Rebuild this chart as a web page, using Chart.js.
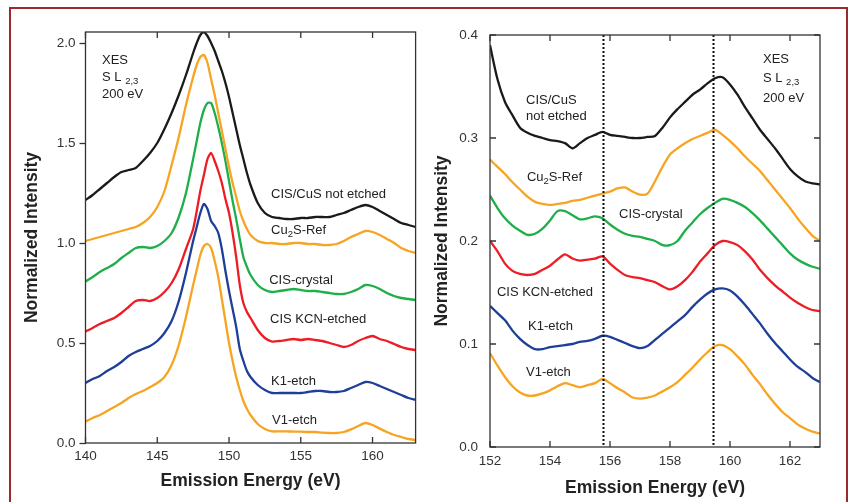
<!DOCTYPE html>
<html lang="en">
<head>
<meta charset="UTF-8">
<title>XES S L2,3 spectra</title>
<script src="https://cdn.jsdelivr.net/npm/chart.js"></script>
<style>
    body {
        margin: 0;
        width: 854px;
        height: 502px;
        overflow: hidden;
        position: relative;
        background: #fff;
        font-family: 'Liberation Sans', Arial, sans-serif;
    }
    .frame {
        position: absolute;
        left: 9px;
        top: 7px;
        width: 835px;
        height: 520px;
        border: 2.5px solid #9c2a2d;
    }
    .panel { position: absolute; top: 0; height: 502px; width: 427px; }
    #left { left: 0; }
    #right { left: 427px; }
</style>
</head>
<body>
<div class="frame"></div>
<div class="panel" id="left"><canvas id="chartL"></canvas></div>
<div class="panel" id="right"><canvas id="chartR"></canvas></div>

<script>
// ---- left panel: full S L2,3 emission, offset spectra ----
const energyL = [140,140.5,141,141.5,142,142.5,143,143.5,144,144.5,145,145.5,146,146.5,147,
    147.5,147.75,148,148.25,148.5,148.75,149,149.25,149.5,149.75,150,150.25,150.5,150.75,151,151.25,151.5,
    152,152.5,153,153.5,154,154.5,155,155.5,156,156.5,157,157.5,158,158.5,159,159.5,160,160.5,161,161.5,162,162.5,163];
const cisCuSL = [1.215,1.24,1.27,1.30,1.33,1.355,1.365,1.375,1.41,1.45,1.50,1.57,1.65,1.74,1.84,
    1.95,2.00,2.04,2.055,2.035,2.00,1.96,1.91,1.86,1.80,1.73,1.65,1.57,1.49,1.42,1.35,1.29,
    1.20,1.15,1.13,1.125,1.12,1.12,1.125,1.125,1.13,1.13,1.13,1.14,1.15,1.165,1.18,1.19,1.18,1.16,1.14,1.12,1.10,1.09,1.08];
const cu2sL = [1.01,1.02,1.03,1.04,1.05,1.06,1.07,1.08,1.10,1.13,1.18,1.26,1.39,1.53,1.69,
    1.83,1.89,1.93,1.94,1.90,1.82,1.74,1.65,1.56,1.47,1.38,1.30,1.23,1.16,1.11,1.07,1.04,
    1.01,1.0,1.0,0.995,0.995,1.0,1.0,0.995,0.995,0.99,0.99,0.995,1.01,1.03,1.045,1.06,1.055,1.04,1.02,1.0,0.975,0.96,0.95];
const crystalL = [0.807,0.83,0.855,0.875,0.895,0.925,0.95,0.975,0.98,0.975,0.985,1.01,1.05,1.13,1.25,
    1.42,1.51,1.60,1.665,1.70,1.70,1.65,1.58,1.50,1.41,1.31,1.21,1.12,1.02,0.93,0.88,0.84,
    0.79,0.765,0.755,0.76,0.765,0.77,0.765,0.76,0.76,0.755,0.75,0.745,0.745,0.755,0.77,0.79,0.785,0.77,0.75,0.735,0.725,0.72,0.715];
const kcnL = [0.557,0.575,0.595,0.61,0.625,0.65,0.68,0.71,0.715,0.71,0.725,0.755,0.80,0.87,0.97,
    1.07,1.16,1.26,1.34,1.42,1.45,1.41,1.36,1.30,1.22,1.15,1.05,0.93,0.79,0.70,0.655,0.625,
    0.565,0.525,0.507,0.51,0.515,0.52,0.515,0.52,0.515,0.51,0.50,0.49,0.48,0.49,0.51,0.525,0.535,0.52,0.51,0.495,0.48,0.47,0.465];
const k1L = [0.30,0.32,0.335,0.36,0.38,0.405,0.435,0.455,0.47,0.485,0.51,0.55,0.61,0.71,0.85,
    1.01,1.08,1.15,1.195,1.17,1.11,1.085,1.05,0.97,0.86,0.76,0.67,0.58,0.47,0.41,0.36,0.33,
    0.29,0.265,0.25,0.25,0.25,0.25,0.25,0.255,0.26,0.26,0.255,0.255,0.26,0.275,0.29,0.305,0.30,0.285,0.27,0.255,0.24,0.225,0.215];
const v1L = [0.107,0.125,0.14,0.16,0.18,0.20,0.225,0.245,0.26,0.28,0.30,0.33,0.39,0.49,0.63,
    0.79,0.865,0.94,0.985,0.995,0.975,0.91,0.83,0.72,0.61,0.50,0.41,0.33,0.265,0.21,0.17,0.14,
    0.095,0.07,0.058,0.058,0.058,0.057,0.057,0.055,0.055,0.052,0.05,0.05,0.055,0.068,0.085,0.10,0.09,0.072,0.055,0.04,0.03,0.02,0.015];

// ---- right panel: zoom on the 152-163 eV region ----
const energyR = [152,152.25,152.5,152.75,153,153.25,153.5,153.75,154,154.25,154.5,154.75,155,155.25,155.5,155.75,
    156,156.25,156.5,156.75,157,157.25,157.5,157.75,158,158.25,158.5,158.75,159,159.25,159.5,159.75,
    160,160.25,160.5,160.75,161,161.25,161.5,161.75,162,162.25,162.5,162.75,163];
const cisCuSR = [0.39,0.357,0.335,0.322,0.31,0.305,0.302,0.30,0.298,0.297,0.295,0.29,0.295,0.30,0.303,0.306,
    0.303,0.302,0.301,0.30,0.30,0.301,0.302,0.31,0.32,0.328,0.335,0.342,0.347,0.353,0.358,0.359,
    0.352,0.342,0.33,0.319,0.308,0.299,0.29,0.28,0.27,0.263,0.258,0.256,0.255];
const cu2sR = [0.279,0.272,0.265,0.257,0.25,0.243,0.238,0.236,0.235,0.236,0.237,0.239,0.24,0.242,0.244,0.246,
    0.248,0.251,0.252,0.248,0.245,0.246,0.258,0.272,0.284,0.29,0.295,0.299,0.302,0.305,0.308,0.303,
    0.297,0.29,0.282,0.275,0.268,0.259,0.25,0.241,0.232,0.222,0.213,0.205,0.20];
const crystalR = [0.244,0.232,0.222,0.215,0.21,0.206,0.207,0.212,0.22,0.229,0.229,0.225,0.221,0.222,0.224,0.222,
    0.216,0.211,0.207,0.205,0.204,0.202,0.20,0.196,0.196,0.20,0.21,0.218,0.226,0.232,0.237,0.241,
    0.24,0.237,0.233,0.227,0.22,0.212,0.204,0.196,0.188,0.182,0.178,0.175,0.173];
const kcnR = [0.20,0.19,0.178,0.171,0.168,0.167,0.168,0.172,0.176,0.182,0.187,0.183,0.181,0.182,0.183,0.185,
    0.178,0.172,0.167,0.165,0.164,0.162,0.16,0.156,0.153,0.156,0.162,0.17,0.18,0.188,0.196,0.20,
    0.199,0.196,0.19,0.182,0.172,0.164,0.157,0.151,0.145,0.14,0.136,0.133,0.132];
const k1R = [0.137,0.13,0.123,0.113,0.105,0.099,0.095,0.095,0.097,0.098,0.099,0.10,0.102,0.103,0.105,0.108,
    0.107,0.104,0.101,0.098,0.096,0.098,0.104,0.11,0.116,0.122,0.128,0.136,0.143,0.149,0.153,0.154,
    0.152,0.146,0.138,0.129,0.12,0.11,0.101,0.093,0.085,0.078,0.073,0.067,0.063];
const v1R = [0.091,0.079,0.068,0.059,0.053,0.05,0.05,0.052,0.055,0.059,0.062,0.06,0.058,0.06,0.062,0.066,
    0.062,0.057,0.053,0.048,0.047,0.048,0.05,0.054,0.058,0.063,0.07,0.077,0.085,0.092,0.098,0.099,
    0.095,0.088,0.08,0.07,0.061,0.051,0.042,0.034,0.028,0.022,0.018,0.015,0.013];

const markerLines = [155.75, 159.42];   // dotted guides (eV)

const COLORS = { black: '#1a1a1a', orange: '#f6a422', green: '#1eae4a', red: '#ec1d25', blue: '#1e3f98' };
const FONT = "'Liberation Sans', Arial, sans-serif";

function series(xs, ys) {
    return xs.map((x, i) => ({ x: x, y: ys[i] }));
}

function ds(xs, ys, color) {
    return { data: series(xs, ys), borderColor: color, borderWidth: 2.3, pointRadius: 0, tension: 0.25, fill: false };
}

// draws text with subscripts: parts = [[text, isSub], ...]
function drawRich(ctx, parts, x, y) {
    let cx = x;
    for (const [t, sub] of parts) {
        ctx.font = (sub ? '9.5px ' : '13px ') + FONT;
        ctx.fillText(t, cx, sub ? y + 4 : y);
        cx += ctx.measureText(t).width;
    }
}

// frame box, inward ticks, dotted guides and in-plot labels
const decorations = {
    id: 'decorations',
    afterDatasetsDraw(chart, args, opts) {
        const ctx = chart.ctx;
        const a = chart.chartArea;
        const xs = chart.scales.x, ys = chart.scales.y;
        ctx.save();

        if (opts.guides) {
            ctx.strokeStyle = '#111';
            ctx.lineWidth = 2;
            ctx.setLineDash([2, 2]);
            opts.guides.forEach(v => {
                const px = Math.round(xs.getPixelForValue(v)) + 0.5;
                ctx.beginPath();
                ctx.moveTo(px, a.top);
                ctx.lineTo(px, a.bottom);
                ctx.stroke();
            });
            ctx.setLineDash([]);
        }

        ctx.strokeStyle = '#333';
        ctx.lineWidth = 1.3;
        ctx.strokeRect(a.left, a.top, a.right - a.left, a.bottom - a.top);

        const len = 6;
        ctx.beginPath();
        xs.ticks.forEach(t => {
            const px = xs.getPixelForValue(t.value);
            ctx.moveTo(px, a.top); ctx.lineTo(px, a.top + len);
            ctx.moveTo(px, a.bottom); ctx.lineTo(px, a.bottom - len);
        });
        if (opts.yInside) {
            ys.ticks.forEach(t => {
                const py = ys.getPixelForValue(t.value);
                ctx.moveTo(a.left, py); ctx.lineTo(a.left + len, py);
                ctx.moveTo(a.right, py); ctx.lineTo(a.right - len, py);
            });
        }
        ctx.stroke();

        ctx.fillStyle = '#222';
        ctx.textAlign = 'left';
        ctx.textBaseline = 'middle';
        opts.labels.forEach(l => {
            drawRich(ctx, l.parts, xs.getPixelForValue(l.x), ys.getPixelForValue(l.y));
        });
        ctx.restore();
    }
};

function makeChart(id, cfg) {
    return new Chart(document.getElementById(id), {
        type: 'line',
        data: { datasets: cfg.datasets },
        options: {
            responsive: true,
            maintainAspectRatio: false,
            animation: false,
            layout: { padding: cfg.padding },
            plugins: {
                legend: { display: false },
                tooltip: { enabled: false },
                decorations: { labels: cfg.labels, guides: cfg.guides, yInside: cfg.yInside }
            },
            scales: {
                x: {
                    type: 'linear',
                    min: cfg.xMin, max: cfg.xMax,
                    border: { display: false },
                    grid: { display: false },
                    ticks: { stepSize: cfg.xStep, includeBounds: false, color: '#333', padding: cfg.xPad,
                             font: { family: FONT, size: 13.5 }, maxRotation: 0 },
                    title: { display: true, text: 'Emission Energy (eV)', color: '#222',
                             font: { family: FONT, size: 17.5, weight: 'bold' },
                             padding: { top: 0, bottom: cfg.xTitlePad } },
                    afterFit: s => { s.height = cfg.xAxisH; }
                },
                y: {
                    min: 0, max: cfg.yMax,
                    border: { display: false },
                    grid: cfg.yInside ? { display: false }
                        : { drawOnChartArea: false, drawTicks: true, tickLength: 6, tickColor: '#333', tickWidth: 1.3 },
                    ticks: { stepSize: cfg.yStep, includeBounds: false, color: '#333', padding: cfg.yPad,
                             font: { family: FONT, size: 13.5 }, callback: v => v.toFixed(1) },
                    title: { display: true, text: 'Normalized Intensity', color: '#222',
                             font: { family: FONT, size: 17.5, weight: 'bold' },
                             padding: { top: cfg.yTitlePad, bottom: 0 } },
                    afterFit: s => { s.width = cfg.yAxisW; }
                }
            }
        },
        plugins: [decorations]
    });
}

makeChart('chartL', {
    datasets: [
        ds(energyL, cisCuSL, COLORS.black),
        ds(energyL, cu2sL, COLORS.orange),
        ds(energyL, crystalL, COLORS.green),
        ds(energyL, kcnL, COLORS.red),
        ds(energyL, k1L, COLORS.blue),
        ds(energyL, v1L, COLORS.orange)
    ],
    xMin: 140, xMax: 163, xStep: 5, yMax: 2.055, yStep: 0.5,
    padding: { left: 0, top: 32, right: 11.4, bottom: 0 },
    yAxisW: 85.5, xAxisH: 59, xPad: -3, yPad: 4, xTitlePad: 10, yTitlePad: 22,
    yInside: false,
    labels: [
        { x: 141.15, y: 1.915, parts: [['XES', 0]] },
        { x: 141.15, y: 1.83, parts: [['S L ', 0], ['2,3', 1]] },
        { x: 141.15, y: 1.745, parts: [['200 eV', 0]] },
        { x: 152.93, y: 1.245, parts: [['CIS/CuS not etched', 0]] },
        { x: 152.93, y: 1.065, parts: [['Cu', 0], ['2', 1], ['S-Ref', 0]] },
        { x: 152.8, y: 0.815, parts: [['CIS-crystal', 0]] },
        { x: 152.86, y: 0.62, parts: [['CIS KCN-etched', 0]] },
        { x: 152.93, y: 0.31, parts: [['K1-etch', 0]] },
        { x: 153.0, y: 0.115, parts: [['V1-etch', 0]] }
    ]
});

makeChart('chartR', {
    datasets: [
        ds(energyR, cisCuSR, COLORS.black),
        ds(energyR, cu2sR, COLORS.orange),
        ds(energyR, crystalR, COLORS.green),
        ds(energyR, kcnR, COLORS.red),
        ds(energyR, k1R, COLORS.blue),
        ds(energyR, v1R, COLORS.orange)
    ],
    xMin: 152, xMax: 163, xStep: 2, yMax: 0.4, yStep: 0.1,
    padding: { left: 0, top: 35, right: 34, bottom: 0 },
    yAxisW: 63, xAxisH: 55, xPad: -2, yPad: 4, xTitlePad: 3, yTitlePad: 4.4,
    yInside: true,
    guides: markerLines,
    labels: [
        { x: 161.1, y: 0.376, parts: [['XES', 0]] },
        { x: 161.1, y: 0.358, parts: [['S L ', 0], ['2,3', 1]] },
        { x: 161.1, y: 0.338, parts: [['200 eV', 0]] },
        { x: 153.2, y: 0.336, parts: [['CIS/CuS', 0]] },
        { x: 153.2, y: 0.321, parts: [['not etched', 0]] },
        { x: 153.23, y: 0.262, parts: [['Cu', 0], ['2', 1], ['S-Ref', 0]] },
        { x: 156.3, y: 0.226, parts: [['CIS-crystal', 0]] },
        { x: 152.23, y: 0.150, parts: [['CIS KCN-etched', 0]] },
        { x: 153.27, y: 0.117, parts: [['K1-etch', 0]] },
        { x: 153.2, y: 0.0725, parts: [['V1-etch', 0]] }
    ]
});
</script>
</body>
</html>
